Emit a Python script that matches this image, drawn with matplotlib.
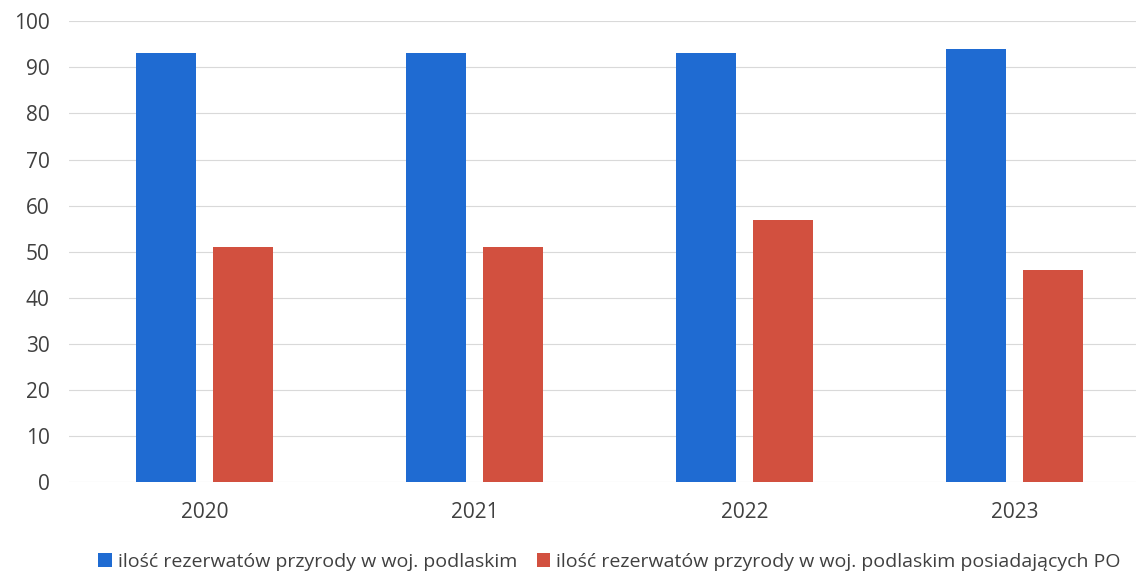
import matplotlib
matplotlib.use("Agg")
import matplotlib.pyplot as plt
import numpy as np

# Data
years = ["2020", "2021", "2022", "2023"]
rezerwaty = [93, 93, 93, 94]
rezerwaty_po = [51, 51, 57, 46]
labels = ["ilość rezerwatów przyrody w woj. podlaskim",
          "ilość rezerwatów przyrody w woj. podlaskim posiadających PO"]

plt.rcParams['font.family'] = ['Open Sans', 'DejaVu Sans']

fig = plt.figure(figsize=(11.36, 5.73), dpi=100)
ax = fig.add_axes([0.061, 0.158, 0.951, 0.805])

x = np.arange(len(years))
w = 0.222
ax.bar(x - 0.142, rezerwaty, width=w, color="#1f6bd2", label=labels[0], zorder=3)
ax.bar(x + 0.142, rezerwaty_po, width=w, color="#d2503f", label=labels[1], zorder=3)

ax.set_xlim(-0.5, 3.5)
ax.set_ylim(0, 100)
ax.set_yticks(range(0, 101, 10))
ax.set_xticks(x)
ax.set_xticklabels(years)
ax.tick_params(axis="both", length=0, labelsize=15, colors="#404040")
ax.tick_params(axis="x", pad=14)
ax.tick_params(axis="y", pad=14)
ax.grid(axis="y", color="#d9d9d9", linewidth=0.8, zorder=0)
for s in ax.spines.values():
    s.set_visible(False)

ax.legend(loc="upper center", bbox_to_anchor=(0.5, -0.115), ncol=2, frameon=False,
          fontsize=14, handlelength=0.7, handleheight=0.7, handletextpad=0.3,
          columnspacing=1.0, labelcolor="#404040")

fig.savefig("out.png", dpi=100)
